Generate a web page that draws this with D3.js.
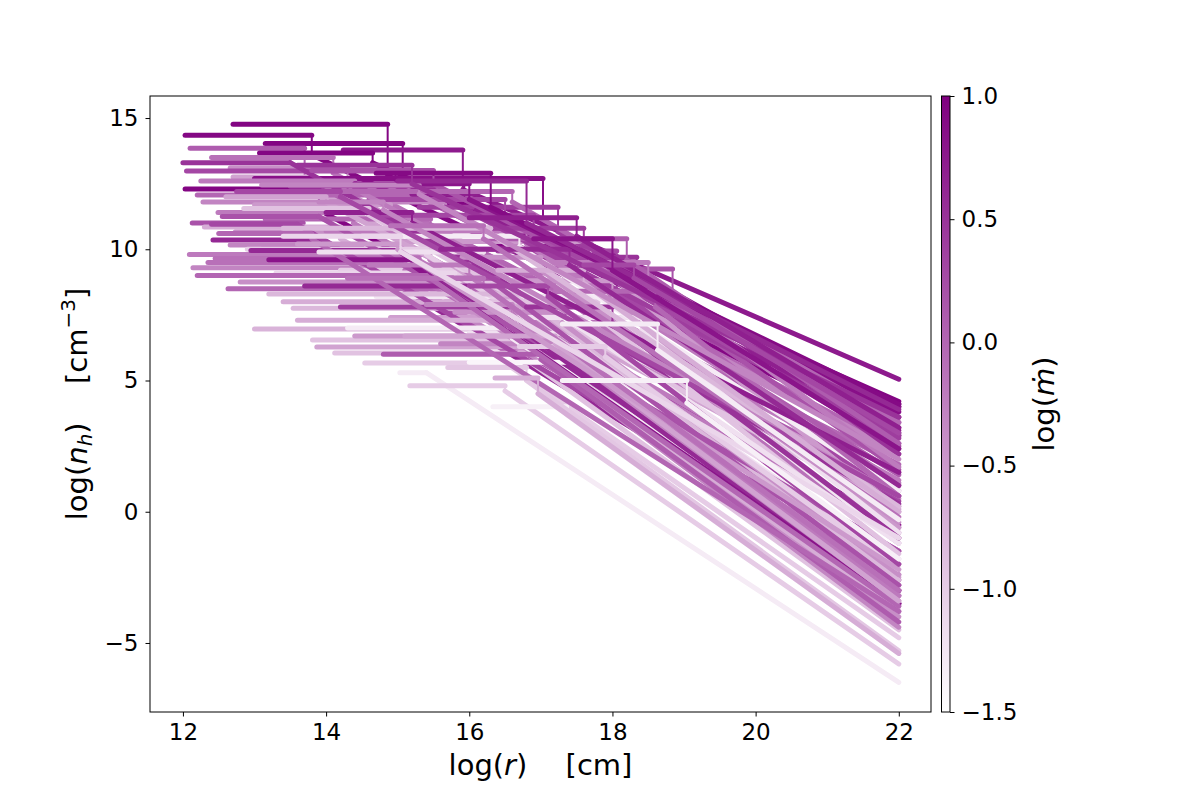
<!DOCTYPE html>
<html>
<head>
<meta charset="utf-8">
<script src="https://cdn.jsdelivr.net/npm/d3@7"></script>
<style>
  body { margin: 0; background: #fff; }
  text { font-family: "DejaVu Sans", sans-serif; fill: #000; }
</style>
</head>
<body>
<div id="chart"></div>
<script>
// one entry per density profile: flat core, jump at rBreak, power-law out to r = 22
const rStart = [12.70,12.03,13.15,12.10,14.24,13.07,12.40,12.66,12.05,12.70,13.00,15.55,12.03,12.20,12.28,13.00,15.30,12.49,13.15,12.13,
  12.30,12.73,12.42,12.66,13.10,12.09,12.45,12.14,12.49,12.63,13.40,13.54,13.00,13.81,13.87,14.12,14.54,15.03,15.17,
  16.33,16.40,16.80,17.20,15.20,14.60,14.00,15.00,15.40,15.00,14.70,14.20,14.90,15.60,16.00,12.00,12.25,
  12.60,12.85,12.40,12.90,12.35,13.30,12.80,13.20,13.60,14.30,14.40,12.95,12.55,13.50,13.80,14.10,14.80,15.80,16.20,17.00,
  16.60,16.20,15.80,16.50,16.00,15.70,14.80,14.20,13.70,13.20,12.50,13.90,14.50,15.20,14.60,15.90,17.50,16.80,14.00,12.20,
  13.40,14.40,13.90,15.40,16.70,15.10,13.60,12.75,14.30,16.40,15.60,13.10,16.00,14.90,14.70,15.00,13.60,16.00,17.60,16.90,
  13.40,17.30,17.30,16.36];
const nFlat = [14.76,14.34,14.03,13.85,13.78,13.67,13.50,13.10,12.98,12.75,12.70,12.70,12.30,12.07,11.80,11.70,11.60,11.40,11.15,11.00,
  10.85,10.66,10.35,10.16,10.00,9.80,9.65,9.30,9.00,8.50,8.00,7.75,6.96,6.54,6.28,6.05,5.67,5.30,4.80,
  4.00,9.93,9.70,9.25,12.10,11.90,10.70,10.30,9.10,8.70,8.20,9.20,7.40,6.40,6.80,13.30,12.60,
  12.00,11.55,10.95,10.00,9.50,9.10,8.75,8.30,7.30,7.00,6.70,9.95,11.25,12.40,13.00,12.20,11.30,10.80,10.40,9.50,
  8.80,8.00,7.60,7.40,5.70,5.50,6.00,7.80,8.60,9.60,10.60,9.90,10.50,8.90,9.40,9.70,8.40,7.80,11.40,9.00,
  10.80,12.50,11.80,7.90,6.30,6.70,10.20,12.20,8.90,9.20,10.00,12.45,8.60,10.90,12.90,12.60,13.20,11.20,9.40,10.40,
  10.50,7.15,5.00,5.10];
const rBreak = [14.86,13.80,15.07,13.70,15.91,14.65,14.10,14.30,14.99,13.80,15.93,17.03,13.90,15.39,15.66,14.90,17.24,14.38,15.46,13.68,
  14.20,15.00,13.96,14.50,17.00,15.45,15.30,15.60,15.90,16.20,16.40,16.60,16.90,17.00,17.30,16.80,16.50,15.40,16.50,
  17.36,18.06,18.34,18.84,16.10,16.50,16.80,17.70,17.20,16.80,17.90,16.30,16.40,16.90,17.40,13.50,14.40,
  14.00,14.60,13.60,15.40,15.10,15.80,15.50,16.80,16.40,16.60,16.90,15.00,13.90,15.60,15.50,16.60,16.90,17.60,18.20,18.50,
  18.00,17.80,17.30,18.40,17.60,16.80,17.00,16.60,16.00,15.20,13.80,16.20,16.70,16.40,16.00,17.00,18.60,18.00,15.20,15.40,
  16.30,16.00,14.80,16.60,17.90,17.20,15.00,14.20,16.20,17.60,17.40,15.30,17.10,16.20,16.30,16.80,15.20,17.50,18.30,18.00,
  15.04,18.63,19.04,16.96];
const nJump = [12.80,13.60,12.80,12.60,12.28,13.30,12.90,12.15,12.40,12.40,11.90,11.10,11.50,11.90,11.60,11.20,10.66,11.00,10.90,10.80,
  10.40,10.30,10.35,9.80,9.90,9.60,9.40,9.00,8.80,8.30,7.60,7.75,6.96,6.30,6.28,5.80,5.67,5.30,4.60,
  3.70,8.45,9.33,7.60,11.50,11.20,10.20,9.60,8.40,8.20,7.60,8.60,7.00,6.00,6.80,13.30,12.30,
  11.80,11.30,10.95,9.80,9.20,8.80,8.75,8.10,7.10,6.60,6.70,9.95,11.25,12.00,12.50,11.80,10.70,10.20,9.60,8.80,
  8.00,7.40,7.20,6.90,5.40,5.00,5.80,7.50,8.40,9.40,10.40,9.50,10.10,8.60,9.00,9.20,7.80,7.20,11.00,9.00,
  10.60,11.90,11.50,7.50,5.90,6.40,10.00,12.00,8.60,8.70,9.40,12.10,8.20,10.40,11.60,11.00,12.50,10.50,8.90,9.20,
  9.90,6.16,4.14,4.50];
const nOuter = [4.20,2.90,4.10,1.00,5.05,4.00,1.50,0.20,3.00,-1.00,3.80,3.60,-0.50,2.40,2.20,0.80,3.20,-0.80,1.80,-2.00,
  -1.50,0.50,-3.00,-2.40,1.40,-0.60,-2.80,-2.80,-3.00,-3.20,-3.60,-3.20,-3.00,-3.60,-3.00,-4.50,-4.80,-6.50,-5.80,
  -5.40,0.40,2.20,1.60,3.10,2.60,1.10,0.00,-1.20,-2.50,-1.20,-2.00,-3.80,-4.40,-2.00,0.30,1.20,
  0.10,0.00,-2.60,-1.80,-1.50,-3.20,-4.00,-2.60,-3.80,-2.90,-3.20,-3.00,-1.50,2.80,3.40,3.40,2.50,2.90,2.60,1.70,
  -0.60,-1.60,-2.40,-0.80,-3.60,-5.30,-4.20,-3.50,-3.50,-3.50,-3.80,-1.20,0.80,-2.80,-3.20,-0.40,0.60,-1.00,1.50,-3.60,
  0.20,4.00,0.60,-3.40,-2.20,-3.40,-2.20,0.60,-3.00,0.00,1.00,2.00,-2.00,-0.20,4.10,3.90,3.60,3.20,3.00,2.40,
  -1.00,-0.30,-1.80,-5.40];
const logMdot = [0.95,0.92,0.95,0.10,0.75,0.95,-0.10,-0.40,0.30,-0.60,0.85,0.85,0.95,0.00,-0.30,-0.50,0.40,-0.20,0.00,0.20,
  -0.70,-0.40,0.60,-0.30,0.10,-0.20,-0.10,-0.30,0.30,0.00,-0.70,-0.80,-0.75,-0.90,-0.60,-0.90,-1.00,-1.30,-1.00,
  -1.35,0.30,0.50,0.20,0.70,0.30,-0.20,-0.50,-0.10,-0.60,-1.25,-1.00,-0.55,-0.30,-1.20,0.50,-0.20,
  -0.60,-0.90,0.30,-1.00,-0.10,-1.10,-0.40,-0.80,-0.70,-1.30,-0.50,0.60,0.20,0.40,0.20,0.00,0.30,0.40,0.10,-0.20,
  -0.50,-0.90,-0.40,-1.20,-1.40,-0.95,0.10,0.40,0.60,0.80,0.00,-1.20,-1.30,0.20,-0.20,-0.40,0.00,0.50,0.70,0.00,
  -0.80,0.80,-0.30,-0.30,-1.00,-0.60,-0.50,0.30,-0.10,-0.70,0.60,-0.30,0.30,-0.10,0.90,0.60,0.50,0.70,0.30,0.80,
  -1.10,-1.30,-1.35,-0.70];

const rOuter = 22;
const xTicks = [12, 14, 16, 18, 20, 22];
const yTicks = [15, 10, 5, 0, -5];
const cTicks = [1.0, 0.5, 0.0, -0.5, -1.0, -1.5];

const W = 1200, H = 800;
const plot = { left: 150, right: 931, top: 96, bottom: 712 };

const svg = d3.select("#chart").append("svg")
  .attr("width", W).attr("height", H);

const x = d3.scaleLinear().domain([11.54, 22.45]).range([plot.left, plot.right]);
const y = d3.scaleLinear().domain([-7.63, 15.84]).range([plot.bottom, plot.top]);
const color = d3.scaleLinear().domain([-1.5, 1.0])
  .range(["#ffffff", "#800080"]).interpolate(d3.interpolateRgb).clamp(true);

const profiles = rStart.map((r0, i) => ({
  r0: r0, nf: nFlat[i], rb: rBreak[i], nj: nJump[i], ne: nOuter[i], m: logMdot[i]
}));

const line = d3.line().x(d => x(d[0])).y(d => y(d[1]));

const g = svg.append("g");
profiles.forEach(p => {
  const c = color(p.m);
  // flat core
  g.append("path").attr("d", line([[p.r0, p.nf], [p.rb, p.nf]]))
    .attr("stroke", c).attr("stroke-width", 5).attr("stroke-linecap", "round").attr("fill", "none");
  // jump
  if (p.nf !== p.nj) {
    g.append("path").attr("d", line([[p.rb, p.nf], [p.rb, p.nj]]))
      .attr("stroke", c).attr("stroke-width", 2).attr("fill", "none");
  }
  // outer power law
  g.append("path").attr("d", line([[p.rb, p.nj], [rOuter, p.ne]]))
    .attr("stroke", c).attr("stroke-width", 5).attr("stroke-linecap", "round").attr("fill", "none");
});

// axes frame
svg.append("rect")
  .attr("x", plot.left).attr("y", plot.top)
  .attr("width", plot.right - plot.left).attr("height", plot.bottom - plot.top)
  .attr("fill", "none").attr("stroke", "#000").attr("stroke-width", 1);

const minus = d => d < 0 ? "\u2212" + Math.abs(d) : String(d);

const xAxis = svg.append("g").attr("transform", `translate(0,${plot.bottom})`)
  .call(d3.axisBottom(x).tickValues(xTicks).tickSize(4.5).tickPadding(7.5).tickFormat(d3.format("d")));
const yAxis = svg.append("g").attr("transform", `translate(${plot.left},0)`)
  .call(d3.axisLeft(y).tickValues(yTicks).tickSize(4.5).tickPadding(7).tickFormat(minus));
[xAxis, yAxis].forEach(a => {
  a.select(".domain").remove();
  a.selectAll("text").style("font-size", "23px").style("font-family", "DejaVu Sans");
});

// x label
const xl = svg.append("text").attr("x", (plot.left + plot.right) / 2).attr("y", 775)
  .attr("text-anchor", "middle").style("font-size", "29px");
xl.append("tspan").text("log(");
xl.append("tspan").text("r").style("font-style", "italic");
xl.append("tspan").text(")\u2003 [cm]");

// y label
const yl = svg.append("text")
  .attr("transform", `translate(87,${(plot.top + plot.bottom) / 2}) rotate(-90)`)
  .attr("text-anchor", "middle").style("font-size", "29px");
yl.append("tspan").text("log(");
yl.append("tspan").text("n").style("font-style", "italic");
yl.append("tspan").text("h").style("font-style", "italic").style("font-size", "20px").attr("dy", 5);
yl.append("tspan").text(")\u2003 [cm").attr("dy", -5);
yl.append("tspan").text("\u22123").style("font-size", "20px").attr("dy", -12);
yl.append("tspan").text("]").attr("dy", 12);

// colorbar
const cb = { left: 941.5, right: 950, top: 96, bottom: 712 };
const cy = d3.scaleLinear().domain([-1.5, 1.0]).range([cb.bottom, cb.top]);
const defs = svg.append("defs");
const grad = defs.append("linearGradient").attr("id", "cbgrad")
  .attr("x1", 0).attr("y1", 1).attr("x2", 0).attr("y2", 0);
grad.append("stop").attr("offset", "0%").attr("stop-color", color(-1.5));
grad.append("stop").attr("offset", "100%").attr("stop-color", color(1.0));
svg.append("rect").attr("x", cb.left).attr("y", cb.top)
  .attr("width", cb.right - cb.left).attr("height", cb.bottom - cb.top)
  .attr("fill", "url(#cbgrad)").attr("stroke", "#000").attr("stroke-width", 1);
const cAxis = svg.append("g").attr("transform", `translate(${cb.right},0)`)
  .call(d3.axisRight(cy).tickValues(cTicks).tickSize(4.5).tickPadding(7)
    .tickFormat(d => (d < 0 ? "\u2212" : "") + d3.format(".1f")(Math.abs(d))));
cAxis.select(".domain").remove();
cAxis.selectAll("text").style("font-size", "23px").style("font-family", "DejaVu Sans");

const cl = svg.append("text")
  .attr("transform", `translate(1054,${(cb.top + cb.bottom) / 2}) rotate(-90)`)
  .attr("text-anchor", "middle").style("font-size", "29px");
cl.append("tspan").text("log(");
cl.append("tspan").text("\u1E41").style("font-style", "italic");
cl.append("tspan").text(")");
</script>
</body>
</html>
